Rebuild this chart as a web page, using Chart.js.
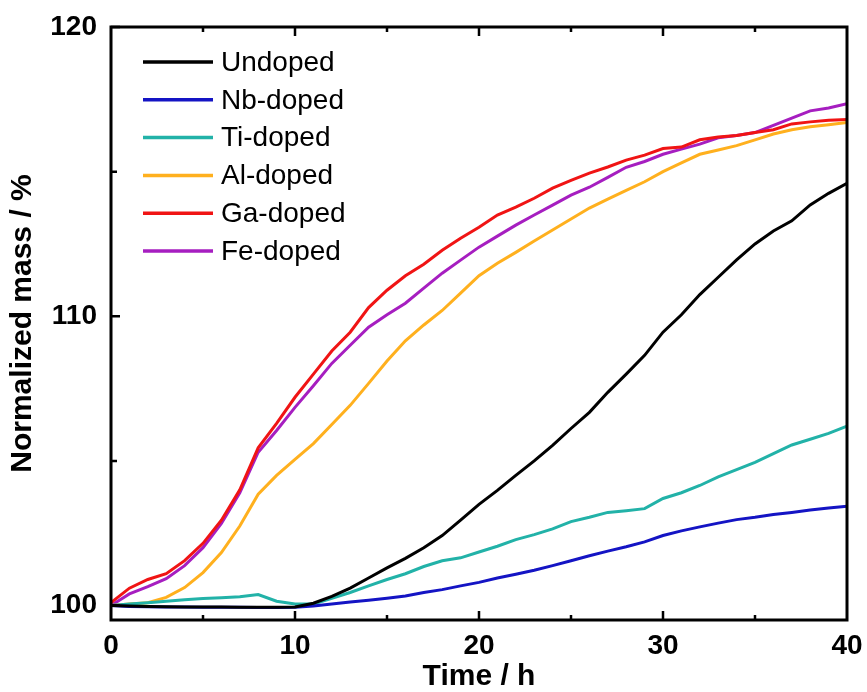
<!DOCTYPE html>
<html>
<head>
<meta charset="utf-8">
<script src="https://cdn.jsdelivr.net/npm/chart.js@4"></script>
<style>
  html, body { margin: 0; padding: 0; background: #fff; }
  #wrap { width: 867px; height: 692px; }
</style>
</head>
<body>
<div id="wrap"><canvas id="chart" width="867" height="692"></canvas></div>
<script>
// time axis (h)
const hours = [0, 1, 2, 3, 4, 5, 6, 7, 8, 9, 10, 11, 12, 13, 14, 15, 16, 17, 18, 19, 20,
               21, 22, 23, 24, 25, 26, 27, 28, 29, 30, 31, 32, 33, 34, 35, 36, 37, 38, 39, 40];

// normalized mass (%)
const undoped = [100.0, 99.98, 99.97, 99.96, 99.95, 99.95, 99.95, 99.94, 99.94, 99.94, 99.95,
                 100.08, 100.32, 100.6, 100.95, 101.3, 101.63, 102.0, 102.42, 102.95, 103.5,
                 103.98, 104.5, 105.0, 105.54, 106.12, 106.68, 107.37, 108.0, 108.65, 109.45,
                 110.05, 110.75, 111.35, 111.95, 112.5, 112.95, 113.3, 113.85, 114.25, 114.6];
const nbDoped = [100.0, 99.97, 99.96, 99.95, 99.95, 99.94, 99.94, 99.94, 99.93, 99.93, 99.94,
                 99.98, 100.05, 100.12, 100.18, 100.25, 100.33, 100.45, 100.55, 100.68, 100.8,
                 100.95, 101.08, 101.22, 101.38, 101.55, 101.72, 101.88, 102.03, 102.2, 102.42,
                 102.58, 102.72, 102.85, 102.97, 103.05, 103.15, 103.22, 103.3, 103.37, 103.43];
const tiDoped = [100.0, 100.05, 100.1, 100.15, 100.2, 100.24, 100.27, 100.3, 100.38, 100.15, 100.05,
                 100.05, 100.25, 100.45, 100.68, 100.9, 101.1, 101.35, 101.55, 101.65, 101.85,
                 102.05, 102.28, 102.45, 102.65, 102.9, 103.05, 103.22, 103.28, 103.35, 103.7,
                 103.9, 104.15, 104.45, 104.7, 104.95, 105.25, 105.55, 105.75, 105.95, 106.2];
const alDoped = [100.0, 100.05, 100.1, 100.28, 100.62, 101.14, 101.83, 102.75, 103.85, 104.5, 105.05,
                 105.6, 106.26, 106.92, 107.68, 108.45, 109.15, 109.7, 110.2, 110.8, 111.4,
                 111.83, 112.21, 112.6, 112.98, 113.36, 113.74, 114.05, 114.35, 114.65, 115.0,
                 115.3, 115.6, 115.75, 115.9, 116.1, 116.3, 116.45, 116.55, 116.62, 116.7];
const gaDoped = [100.1, 100.6, 100.9, 101.1, 101.55, 102.15, 102.95, 104.0, 105.45, 106.3, 107.2,
                 108.0, 108.8, 109.45, 110.3, 110.9, 111.4, 111.8, 112.28, 112.7, 113.08,
                 113.5, 113.77, 114.08, 114.43, 114.7, 114.95, 115.16, 115.4, 115.57, 115.8,
                 115.85, 116.1, 116.2, 116.25, 116.35, 116.45, 116.65, 116.72, 116.78, 116.8];
const feDoped = [100.0, 100.4, 100.65, 100.93, 101.38, 102.0, 102.84, 103.9, 105.3, 106.05, 106.85,
                 107.6, 108.37, 109.0, 109.62, 110.05, 110.45, 110.97, 111.49, 111.94, 112.39,
                 112.77, 113.15, 113.5, 113.84, 114.19, 114.46, 114.8, 115.15, 115.35, 115.6,
                 115.78, 115.95, 116.17, 116.25, 116.35, 116.6, 116.85, 117.1, 117.2, 117.35];

const seriesNames = ['Undoped', 'Nb-doped', 'Ti-doped', 'Al-doped', 'Ga-doped', 'Fe-doped'];

const xMajor = [0, 10, 20, 30, 40];
const xMinor = [5, 15, 25, 35];
const yMajor = [100, 110, 120];
const yMinor = [105, 115];

const colors = {
  undoped: '#000000',
  nb:      '#1414c4',
  ti:      '#22b2a8',
  al:      '#ffb01e',
  ga:      '#f01414',
  fe:      '#a61ec0',
};

const FONT = "'Liberation Sans', Arial, sans-serif";

const toPoints = (vals) => vals.map((v, i) => ({ x: hours[i], y: v }));

function mkSet(label, vals, color) {
  return {
    label: label,
    data: toPoints(vals),
    borderColor: color,
    backgroundColor: color,
    borderWidth: 3,
    pointRadius: 0,
    tension: 0,
  };
}

// frame + inward ticks, like the original plot
const framePlugin = {
  id: 'frame',
  afterDatasetsDraw(chart) {
    const { ctx, chartArea: a, scales } = chart;
    const xs = scales.x, ys = scales.y;
    ctx.save();
    ctx.strokeStyle = '#000';
    ctx.lineWidth = 3;
    ctx.strokeRect(a.left, a.top, a.right - a.left, a.bottom - a.top);

    ctx.lineWidth = 2.5;
    ctx.beginPath();
    const tick = (vals, len) => {
      vals.forEach(v => {
        const px = xs.getPixelForValue(v);
        ctx.moveTo(px, a.bottom); ctx.lineTo(px, a.bottom - len);
        ctx.moveTo(px, a.top);    ctx.lineTo(px, a.top + len);
      });
    };
    tick(xMajor.slice(1, -1), 9);
    tick(xMinor, 5);
    yMajor.concat(yMinor).forEach(v => {
      const py = ys.getPixelForValue(v);
      const len = yMinor.includes(v) ? 6 : 9;
      ctx.moveTo(a.left, py); ctx.lineTo(a.left + len, py);
    });
    ctx.stroke();
    ctx.restore();
  }
};

// legend drawn inside plot, upper left
const legendPlugin = {
  id: 'insideLegend',
  afterDatasetsDraw(chart) {
    const { ctx, chartArea: a } = chart;
    ctx.save();
    ctx.font = '28px ' + FONT;
    ctx.textBaseline = 'middle';
    ctx.textAlign = 'left';
    chart.data.datasets.forEach((ds, i) => {
      const y = a.top + 35 + i * 37.8;
      ctx.strokeStyle = ds.borderColor;
      ctx.lineWidth = 3.5;
      ctx.beginPath();
      ctx.moveTo(a.left + 32, y);
      ctx.lineTo(a.left + 102, y);
      ctx.stroke();
      ctx.fillStyle = '#000';
      ctx.fillText(ds.label, a.left + 110, y + 1);
    });
    ctx.restore();
  }
};

new Chart(document.getElementById('chart'), {
  type: 'line',
  data: {
    datasets: [
      mkSet(seriesNames[0], undoped, colors.undoped),
      mkSet(seriesNames[1], nbDoped, colors.nb),
      mkSet(seriesNames[2], tiDoped, colors.ti),
      mkSet(seriesNames[3], alDoped, colors.al),
      mkSet(seriesNames[4], gaDoped, colors.ga),
      mkSet(seriesNames[5], feDoped, colors.fe),
    ]
  },
  options: {
    responsive: false,
    animation: false,
    layout: { padding: { top: 27, right: 20, left: 0, bottom: 0 } },
    plugins: {
      legend: { display: false },
      tooltip: { enabled: false },
    },
    scales: {
      x: {
        type: 'linear',
        min: 0,
        max: 40,
        afterBuildTicks: (s) => { s.ticks = xMajor.map(v => ({ value: v })); },
        afterFit: (s) => { s.height = 72; s.paddingLeft = 0; s.paddingRight = 0; },
        grid: { display: false, drawTicks: false },
        border: { display: false },
        ticks: {
          color: '#000',
          padding: 9,
          maxRotation: 0,
          font: { family: FONT, size: 28, weight: 'bold' },
        },
        title: {
          display: true,
          text: 'Time / h',
          color: '#000',
          padding: 0,
          font: { family: FONT, size: 30, weight: 'bold', lineHeight: 1 },
        }
      },
      y: {
        type: 'linear',
        min: 99.5,
        max: 120,
        afterBuildTicks: (s) => { s.ticks = yMajor.map(v => ({ value: v })); },
        afterFit: (s) => { s.width = 111; s.paddingTop = 0; s.paddingBottom = 0; },
        grid: { display: false, drawTicks: false },
        border: { display: false },
        ticks: {
          color: '#000',
          padding: 14,
          font: { family: FONT, size: 28, weight: 'bold' },
        },
        title: {
          display: true,
          text: 'Normalized mass / %',
          color: '#000',
          padding: { top: 8, bottom: 0 },
          font: { family: FONT, size: 30, weight: 'bold', lineHeight: 1 },
        }
      }
    }
  },
  plugins: [framePlugin, legendPlugin]
});
</script>
</body>
</html>
